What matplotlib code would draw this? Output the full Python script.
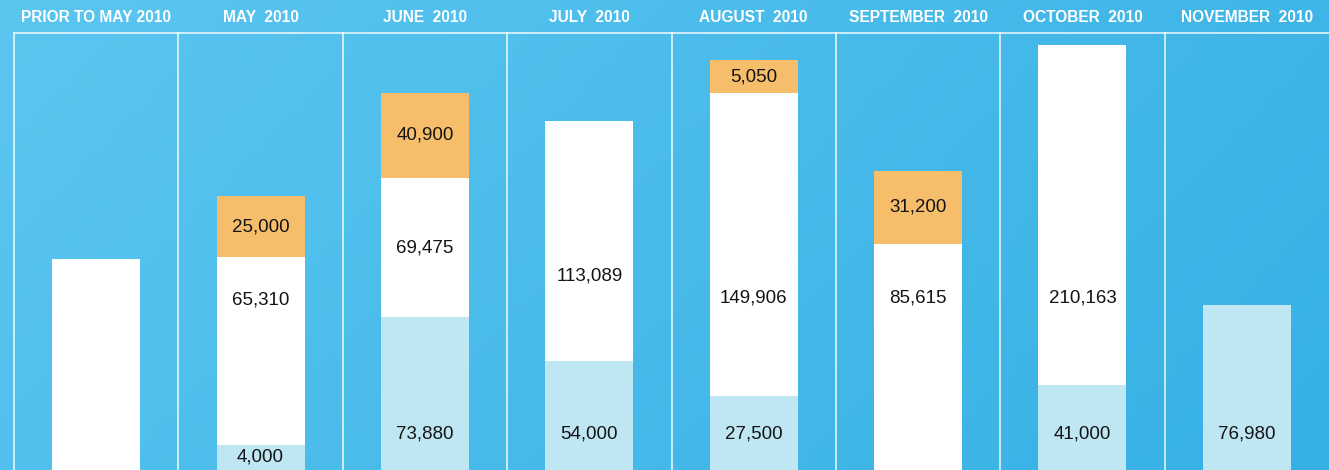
import numpy as np
import matplotlib
matplotlib.use("Agg")
import matplotlib.pyplot as plt
from matplotlib.colors import LinearSegmentedColormap

# ---------------- data ----------------
months = ["PRIOR TO MAY 2010", "MAY  2010", "JUNE  2010", "JULY  2010",
          "AUGUST  2010", "SEPTEMBER  2010", "OCTOBER  2010", "NOVEMBER  2010"]

# printed values (None = no label)
light_labels = [None, "4,000", "73,880", "54,000", "27,500", None, "41,000", "76,980"]
white_labels = [None, "65,310", "69,475", "113,089", "149,906", "85,615", "210,163", None]
orange_labels = [None, "25,000", "40,900", None, "5,050", "31,200", None, None]

# drawn segment heights (the chart is not to scale)
light_heights = [0, 25, 153, 109, 74, 0, 85, 165]
white_heights = [211, 188, 139, 240, 303, 226, 340, 0]
orange_heights = [0, 61, 85, 0, 33, 73, 0, 0]

# height (from the bottom) of the white-segment labels
white_label_y = [0, 170, 222, 194, 172, 172, 172, 0]

# ---------------- style ----------------
C_LIGHT = "#BFE6F3"
C_WHITE = "#FFFFFF"
C_ORANGE = "#F6BD6A"
TXT = "#141414"
BAR_W = 0.535

W, H = 1329, 470
fig = plt.figure(figsize=(W / 100, H / 100), dpi=100)
ax = fig.add_axes([0, 0, 1, 1])
n = len(months)
colw = (W - 14) / n
left = -0.5 - 14 / colw
ax.set_xlim(left, n - 0.5)
ax.set_ylim(0, H)
ax.axis("off")

# gradient background
cmap = LinearSegmentedColormap.from_list("bg", ["#5BC6F0", "#36B0E4"])
xx, yy = np.meshgrid(np.linspace(0, 1, 200), np.linspace(0, 1, 80))
grad = (xx * 0.75 + yy * 0.25)
ax.imshow(grad, cmap=cmap, extent=[left, n - 0.5, 0, H], origin="upper",
          aspect="auto", zorder=0)

box_top = H - 33
# grid lines
for k in range(n):
    ax.plot([k - 0.5, k - 0.5], [0, box_top], color="white", alpha=0.85, lw=1.2, zorder=1)
ax.plot([-0.5, n - 0.5], [box_top, box_top], color="white", alpha=0.85, lw=1.2, zorder=1)

x = np.arange(n)
lh = np.array(light_heights, float)
wh = np.array(white_heights, float)
oh = np.array(orange_heights, float)
ax.bar(x, lh, width=BAR_W, color=C_LIGHT, zorder=2, linewidth=0)
ax.bar(x, wh, width=BAR_W, bottom=lh, color=C_WHITE, zorder=2, linewidth=0)
ax.bar(x, oh, width=BAR_W, bottom=lh + wh, color=C_ORANGE, zorder=2, linewidth=0)

fp = dict(family="Liberation Sans", fontsize=13.5, color=TXT, ha="center", va="center", zorder=3)
for i in range(n):
    if light_labels[i]:
        ax.text(x[i], min(lh[i] / 2, 36), light_labels[i], **fp)
    if white_labels[i]:
        ax.text(x[i], white_label_y[i], white_labels[i], **fp)
    if orange_labels[i]:
        ax.text(x[i], lh[i] + wh[i] + oh[i] / 2, orange_labels[i], **fp)
    ax.text(x[i], H - 17.5, months[i], family="Liberation Sans", fontsize=11.2,
            fontweight="bold", color="white", ha="center", va="center", zorder=3)

fig.savefig("out.png", dpi=100)
